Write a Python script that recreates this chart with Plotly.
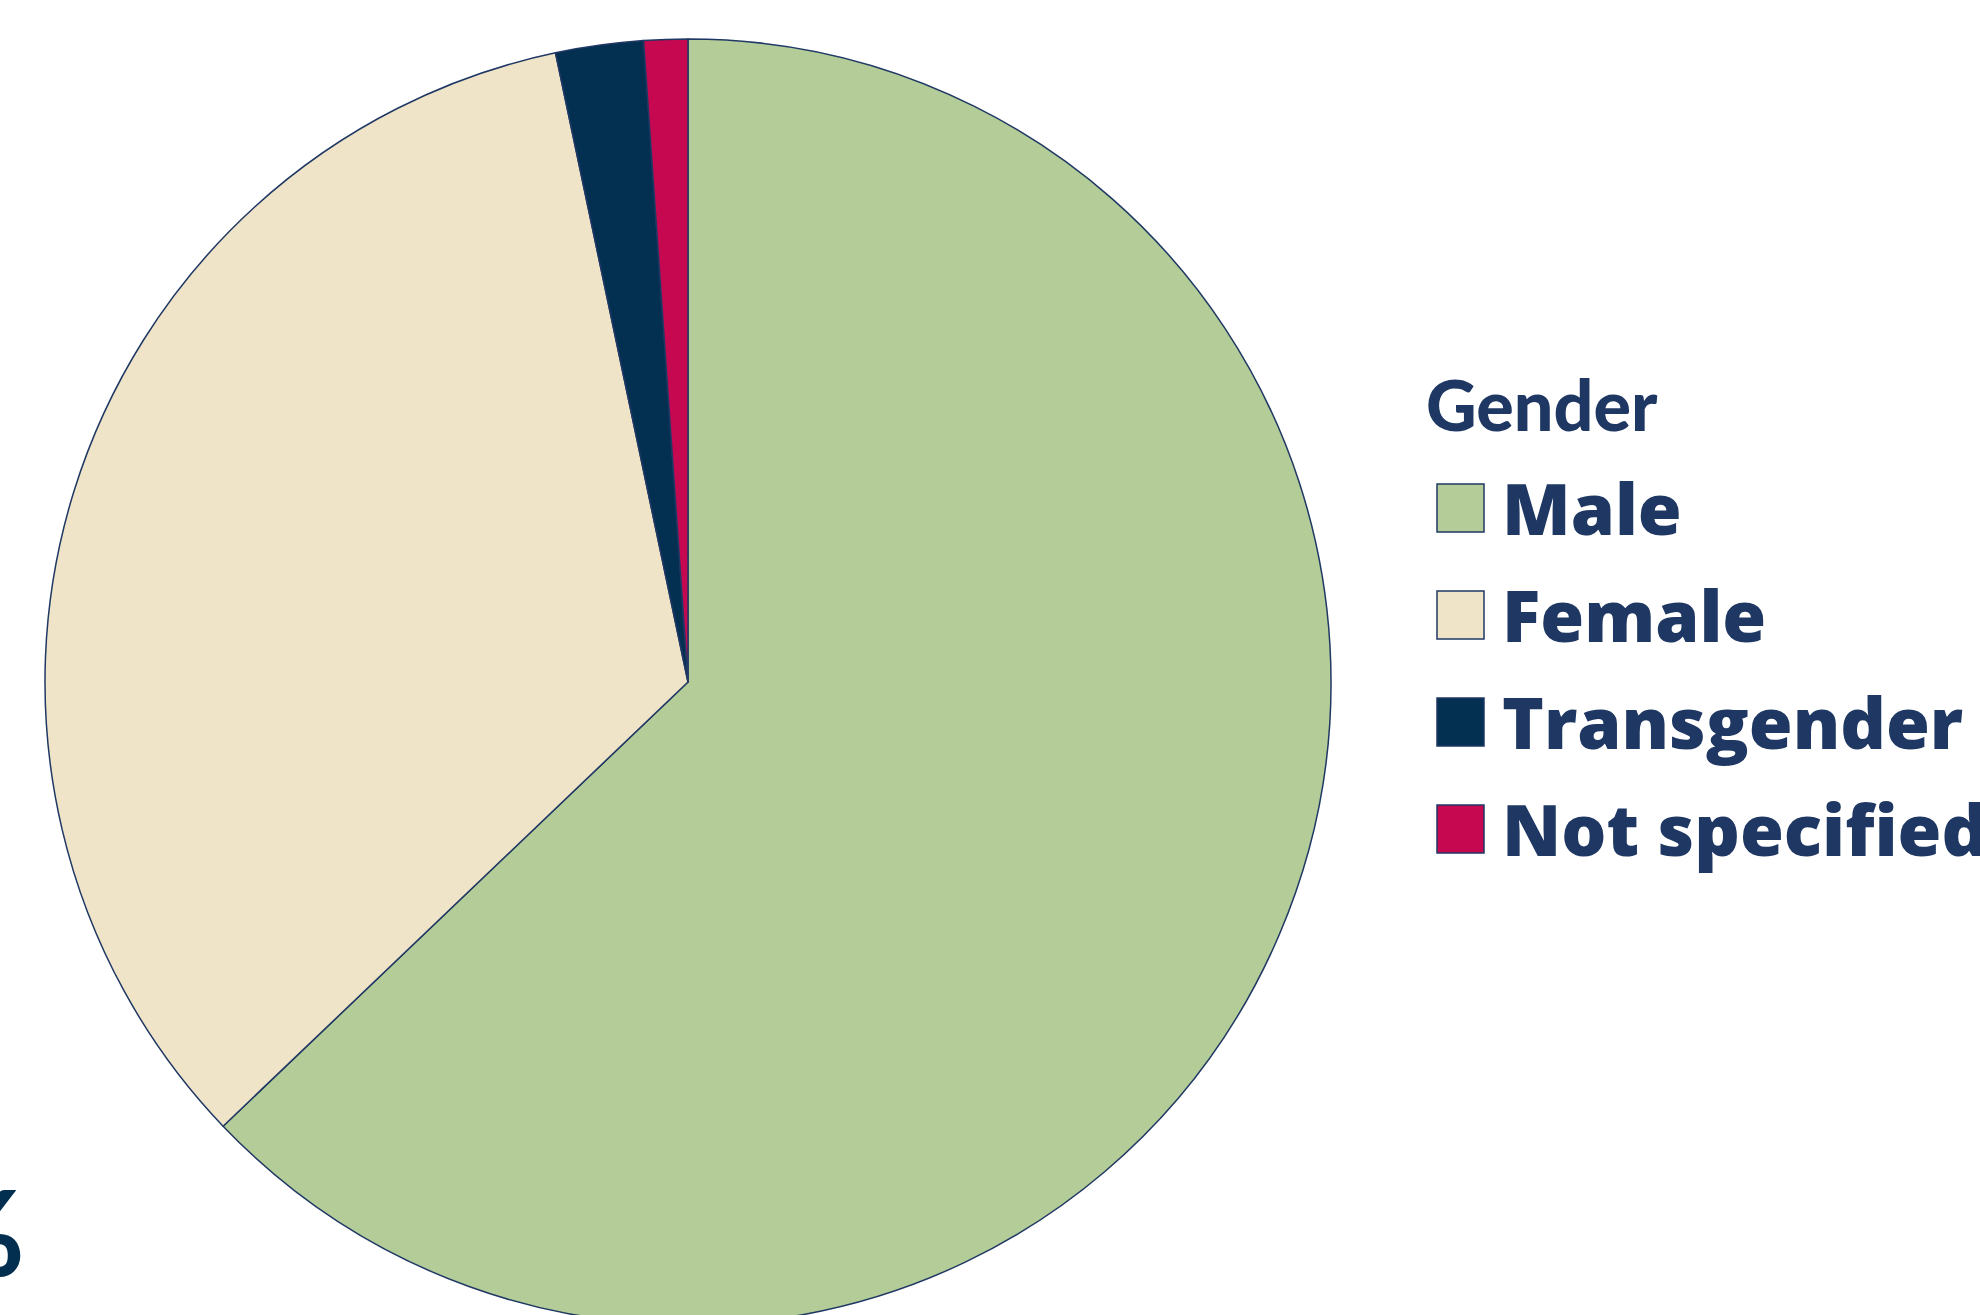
import plotly.graph_objects as go

# ---- data ----
categories = ["Male", "Female", "Transgender", "Not specified"]
shares = [62.8, 33.8, 2.2, 1.1]
slice_colors = ["#B4CC97", "#EFE4C7", "#032F50", "#C5084F"]
legend_title = "Gender"

W, H = 1980, 1325  # pie runs slightly past the bottom edge, as in the reference
TEXT = "#1F3763"
EDGE = "#1F3864"
TITLE_FONT = "Lato, 'Open Sans', sans-serif"
ITEM_FONT = "'Open Sans', Lato, sans-serif"


def px_x(v):
    return v / W


def px_y(v):
    return 1 - v / H


fig = go.Figure()
fig.add_trace(go.Pie(
    labels=categories,
    values=shares,
    sort=False,
    direction="clockwise",
    rotation=0,
    textinfo="none",
    hoverinfo="label+percent",
    marker=dict(colors=slice_colors, line=dict(color=EDGE, width=1.5)),
    domain=dict(x=[px_x(45), px_x(1331)], y=[0, px_y(39)]),
    showlegend=False,
))

# custom legend (large swatches like the reference)
annotations = [dict(
    text=legend_title, x=px_x(1424), y=px_y(404),
    xref="paper", yref="paper", xanchor="left", yanchor="middle",
    showarrow=False, font=dict(family=TITLE_FONT, size=70, color=TEXT, weight=900))]
shapes = []
row0, step = 508, 107
for i, (name, col) in enumerate(zip(categories, slice_colors)):
    cy = row0 + i * step
    shapes.append(dict(
        type="rect", xref="paper", yref="paper",
        x0=px_x(1437), x1=px_x(1484), y0=px_y(cy + 24), y1=px_y(cy - 24),
        fillcolor=col, line=dict(color=EDGE, width=1.5)))
    annotations.append(dict(
        text=name, x=px_x(1500), y=px_y(cy - 1),
        xref="paper", yref="paper", xanchor="left", yanchor="middle",
        showarrow=False, font=dict(family=ITEM_FONT, size=71, color=TEXT, weight=800)))

# partially visible label at the left edge
annotations.append(dict(
    text="%", x=px_x(27), y=px_y(1230),
    xref="paper", yref="paper", xanchor="right", yanchor="middle",
    showarrow=False, font=dict(family=TITLE_FONT, size=118, color="#022F4F", weight=900)))

fig.update_layout(
    width=W, height=H,
    margin=dict(l=0, r=0, t=0, b=0),
    paper_bgcolor="white", plot_bgcolor="white",
    annotations=annotations, shapes=shapes,
)

fig.write_html(
    "out.html",
    config={"displayModeBar": False},
    post_script="document.body.style.margin='0';document.body.style.overflow='hidden';",
)
